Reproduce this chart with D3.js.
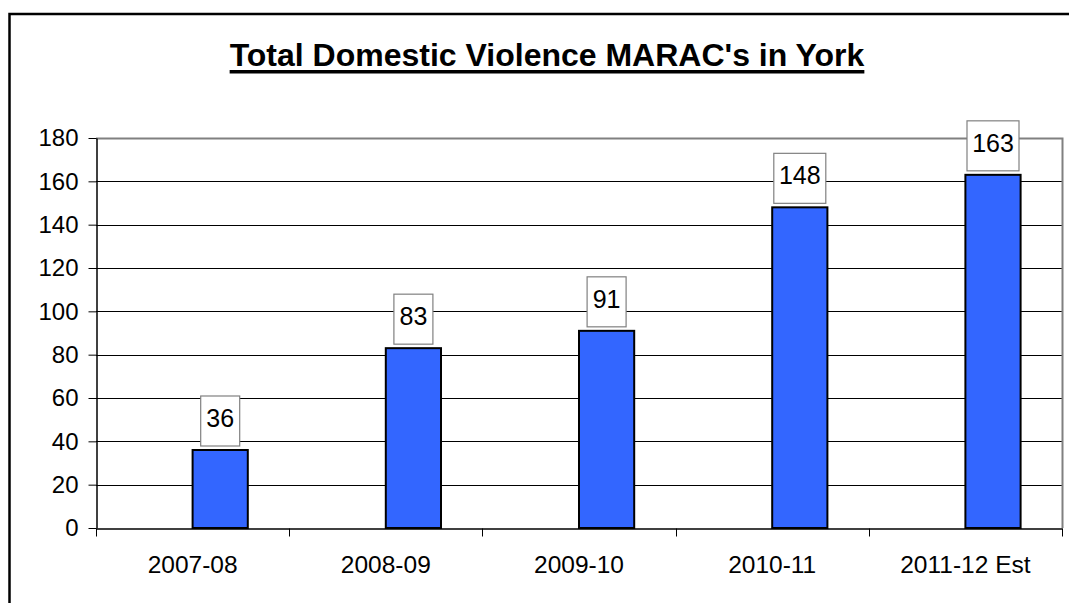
<!DOCTYPE html>
<html>
<head>
<meta charset="utf-8">
<script src="https://cdn.jsdelivr.net/npm/d3@7"></script>
<style>
  body { margin: 0; background: #fff; }
  svg { display: block; }
  svg text { font-family: Arial, "Liberation Sans", Arimo, Helvetica, sans-serif; }
</style>
</head>
<body>
<div class="chart"></div>
<script>
const categories = ['2007-08', '2008-09', '2009-10', '2010-11', '2011-12 Est']
const values = [36, 83, 91, 148, 163]
const yTicks = [0, 20, 40, 60, 80, 100, 120, 140, 160, 180]
const title = "Total Domestic Violence MARAC's in York"

const W = 1069
const H = 603
const plot = {left: 96, top: 138, right: 1062, bottom: 528}

const svg = d3.select('.chart').append('svg')
  .attr('width', W)
  .attr('height', H)

// outer frame, runs off the picture right and bottom
svg.append('rect')
  .attr('x', 9.5).attr('y', 14)
  .attr('width', 1200).attr('height', 800)
  .attr('fill', '#fff')
  .attr('stroke', '#000')
  .attr('stroke-width', 2.5)

const scaleX = d3.scaleBand()
  .domain(categories)
  .range([plot.left, plot.right])
  .padding(0)

const scaleY = d3.scaleLinear()
  .domain([0, 180])
  .range([plot.bottom, plot.top])

// bar is the second slot of a 2-slot cluster with 150% gap
const barW = scaleX.bandwidth() / 3.5

// gridlines
svg.append('g')
  .selectAll('line')
  .data(yTicks.filter(d => d > 0 && d < 180))
  .join('line')
  .attr('x1', plot.left).attr('x2', plot.right)
  .attr('y1', d => Math.round(scaleY(d)) + 0.5)
  .attr('y2', d => Math.round(scaleY(d)) + 0.5)
  .attr('stroke', '#000')
  .attr('stroke-width', 1)

// plot area border (top/right grey)
svg.append('path')
  .attr('d', `M${plot.left},${scaleY(180) + 0.5}H${plot.right + 0.5}V${plot.bottom}`)
  .attr('fill', 'none')
  .attr('stroke', '#808080')
  .attr('stroke-width', 2)

// bars
svg.append('g')
  .selectAll('rect')
  .data(values)
  .join('rect')
  .attr('x', (d, i) => scaleX(categories[i]) + scaleX.bandwidth() / 2)
  .attr('y', d => scaleY(d))
  .attr('width', barW)
  .attr('height', d => scaleY(0) - scaleY(d))
  .attr('fill', '#3366ff')
  .attr('stroke', '#000')
  .attr('stroke-width', 2)

// axes
const axisLeft = d3.axisLeft(scaleY).tickValues(yTicks).tickSizeInner(8).tickSizeOuter(0).tickPadding(10)
const yAxis = svg.append('g')
  .attr('transform', `translate(${plot.left + 0.5},0)`)
  .call(axisLeft)
yAxis.select('.domain').attr('stroke', '#000').attr('stroke-width', 1.5)
yAxis.selectAll('.tick line').attr('stroke', '#000')
yAxis.selectAll('.tick text')
  .attr('font-size', 24)
  .attr('fill', '#000')

const axisBottom = d3.axisBottom(scaleX).tickSize(0).tickPadding(27)
const xAxis = svg.append('g')
  .attr('transform', `translate(0,${plot.bottom + 0.5})`)
  .call(axisBottom)
xAxis.select('.domain').attr('stroke', '#000').attr('stroke-width', 1.5)
xAxis.selectAll('.tick text')
  .attr('font-size', 24.5)
  .attr('fill', '#000')

// tick marks between categories
xAxis.append('g')
  .selectAll('line')
  .data(categories.map(c => scaleX(c)).concat([plot.right]))
  .join('line')
  .attr('x1', d => Math.round(d) + 0.5).attr('x2', d => Math.round(d) + 0.5)
  .attr('y1', 0).attr('y2', 8)
  .attr('stroke', '#000')

// value labels in boxes
const labels = svg.append('g')
  .selectAll('g')
  .data(values)
  .join('g')
  .attr('transform', (d, i) => `translate(${scaleX(categories[i]) + scaleX.bandwidth() / 2 + barW / 2},${scaleY(d) - 4})`)

labels.append('rect')
  .attr('x', d => d >= 100 ? -26 : -19.5)
  .attr('y', -50)
  .attr('width', d => d >= 100 ? 52 : 39)
  .attr('height', 50)
  .attr('fill', '#fff')
  .attr('stroke', '#808080')
  .attr('stroke-width', 1.2)

labels.append('text')
  .attr('text-anchor', 'middle')
  .attr('y', -19)
  .attr('font-size', 25)
  .attr('fill', '#000')
  .text(d => d)

// title
const t = svg.append('text')
  .attr('x', 547)
  .attr('y', 66)
  .attr('text-anchor', 'middle')
  .attr('font-size', 32)
  .attr('font-weight', 'bold')
  .attr('fill', '#000')
  .text(title)

const tw = t.node().getComputedTextLength()
svg.append('rect')
  .attr('x', 547 - tw / 2)
  .attr('y', 70)
  .attr('width', tw)
  .attr('height', 3.5)
  .attr('fill', '#000')
</script>
</body>
</html>
